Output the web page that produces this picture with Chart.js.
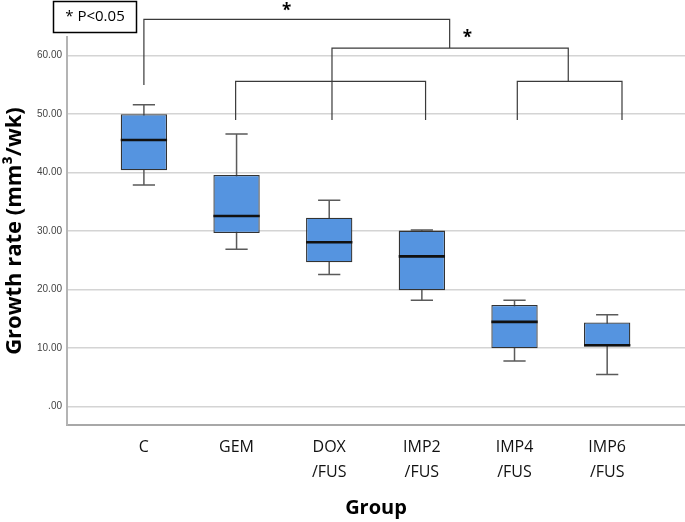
<!DOCTYPE html>
<html>
<head>
<meta charset="utf-8">
<script src="https://cdn.jsdelivr.net/npm/chart.js@4"></script>
<style>
  body { margin: 0; background: #fff; }
</style>
</head>
<body>
<canvas id="growthChart" width="685" height="522"></canvas>
<script>
const groups = [["C"], ["GEM"], ["DOX", "/FUS"], ["IMP2", "/FUS"], ["IMP4", "/FUS"], ["IMP6", "/FUS"]];
const mins = [37.9, 26.9, 22.6, 18.2, 7.8, 5.5];
const q1s = [40.4, 29.7, 24.7, 19.9, 10.0, 10.3];
const medians = [45.6, 32.6, 28.1, 25.7, 14.5, 10.5];
const q3s = [50.0, 39.6, 32.3, 30.1, 17.4, 14.4];
const maxs = [51.6, 46.6, 35.3, 30.2, 18.2, 15.7];
const yTicks = [0, 10, 20, 30, 40, 50, 60];

// significance brackets, in group index / value units
const brackets = [
  { x1: 0, x2: 3.30, top: 66.2, leftEnd: 55.0, rightEnd: 61.3 },
  { x1: 2.03, x2: 4.58, top: 61.3, leftEnd: 49.0, rightEnd: 55.6 },
  { x1: 0.99, x2: 3.04, top: 55.6, leftEnd: 49.0, rightEnd: 49.0 },
  { x1: 4.03, x2: 5.16, top: 55.6, leftEnd: 49.0, rightEnd: 49.0 },
];
const stars = [{ x: 1.54, y: 67.7 }, { x: 3.49, y: 63.0 }];

const boxes = groups.map((g, i) => ({ x: i, y: [q1s[i], q3s[i]] }));

const boxPlotPlugin = {
  id: "boxPlot",
  beforeDatasetsDraw(chart) {
    const ctx = chart.ctx;
    const y = chart.scales.y;
    const meta = chart.getDatasetMeta(0);
    ctx.save();
    ctx.strokeStyle = "#5a5a5a";
    ctx.lineWidth = 1.5;
    meta.data.forEach((bar, i) => {
      const cap = bar.width * 0.48 / 2;
      const top = y.getPixelForValue(maxs[i]);
      const bottom = y.getPixelForValue(mins[i]);
      ctx.beginPath();
      ctx.moveTo(bar.x, top);
      ctx.lineTo(bar.x, bottom);
      ctx.moveTo(bar.x - cap, top);
      ctx.lineTo(bar.x + cap, top);
      ctx.moveTo(bar.x - cap, bottom);
      ctx.lineTo(bar.x + cap, bottom);
      ctx.stroke();
    });
    ctx.restore();
  },
  afterDatasetsDraw(chart) {
    const ctx = chart.ctx;
    const y = chart.scales.y;
    const meta = chart.getDatasetMeta(0);
    ctx.save();
    ctx.strokeStyle = "#111";
    ctx.lineWidth = 2.6;
    meta.data.forEach((bar, i) => {
      const my = y.getPixelForValue(medians[i]);
      ctx.beginPath();
      ctx.moveTo(bar.x - bar.width / 2, my);
      ctx.lineTo(bar.x + bar.width / 2, my);
      ctx.stroke();
    });
    ctx.restore();
  },
  afterDraw(chart) {
    const ctx = chart.ctx;
    const x = chart.scales.x;
    const y = chart.scales.y;
    ctx.save();
    ctx.strokeStyle = "#3a3a3a";
    ctx.lineWidth = 1.2;
    brackets.forEach(b => {
      const xa = x.getPixelForValue(b.x1);
      const xb = x.getPixelForValue(b.x2);
      const yt = y.getPixelForValue(b.top);
      ctx.beginPath();
      ctx.moveTo(xa, y.getPixelForValue(b.leftEnd));
      ctx.lineTo(xa, yt);
      ctx.lineTo(xb, yt);
      ctx.lineTo(xb, y.getPixelForValue(b.rightEnd));
      ctx.stroke();
    });
    ctx.fillStyle = "#000";
    ctx.font = "bold 17px 'Open Sans'";
    ctx.textAlign = "center";
    ctx.textBaseline = "middle";
    stars.forEach(s => {
      ctx.fillText("*", x.getPixelForValue(s.x), y.getPixelForValue(s.y));
    });
    // note box top left
    ctx.lineWidth = 1.5;
    ctx.strokeStyle = "#000";
    ctx.strokeRect(53.5, 1.5, 83, 31);
    ctx.font = "15px 'Open Sans'";
    ctx.fillText("* P<0.05", 95, 17);
    ctx.restore();
  }
};

new Chart(document.getElementById("growthChart"), {
  type: "bar",
  data: {
    datasets: [{
      data: boxes,
      backgroundColor: "#5594e0",
      borderColor: "#333",
      borderWidth: 1.3,
      borderSkipped: false,
      categoryPercentage: 1,
      barPercentage: 0.5,
    }],
  },
  options: {
    responsive: false,
    animation: false,
    devicePixelRatio: 1,
    layout: { padding: { top: 37, left: 0, right: 0, bottom: 0 } },
    plugins: { legend: { display: false }, tooltip: { enabled: false } },
    scales: {
      x: {
        type: "linear",
        offset: false,
        min: -0.83,
        max: 5.84,
        afterFit: scale => { scale.height = 97; },
        afterBuildTicks: scale => { scale.ticks = groups.map((g, i) => ({ value: i })); },
        grid: { display: false, drawTicks: false },
        border: { color: "#a8a8a8", width: 2 },
        ticks: {
          callback: value => groups[value],
          font: { family: "'Open Sans'", size: 16, lineHeight: 1.55 },
          color: "#111",
          padding: 10,
          maxRotation: 0,
          autoSkip: false,
        },
        title: {
          display: true,
          text: "Group",
          font: { family: "'Open Sans'", size: 20, weight: "bold" },
          color: "#000",
          padding: { top: 0, bottom: 2 },
        },
      },
      y: {
        min: -3.13,
        max: 63.2,
        afterFit: scale => { scale.width = 67; },
        afterBuildTicks: scale => { scale.ticks = yTicks.map(v => ({ value: v })); },
        grid: { color: "#d4d4d4", lineWidth: 1.5, drawTicks: false },
        border: { color: "#b4b4b4", width: 2 },
        ticks: {
          callback: value => value === 0 ? ".00" : value.toFixed(2),
          font: { family: "'Liberation Sans'", size: 10 },
          color: "#444",
          padding: 5,
        },
        title: {
          display: true,
          text: "Growth rate (mm³/wk)",
          font: { family: "'Open Sans'", size: 22, weight: "bold", lineHeight: 1.1 },
          color: "#000",
          padding: { top: 3, bottom: 0 },
        },
      },
    },
  },
  plugins: [boxPlotPlugin],
});
</script>
</body>
</html>
